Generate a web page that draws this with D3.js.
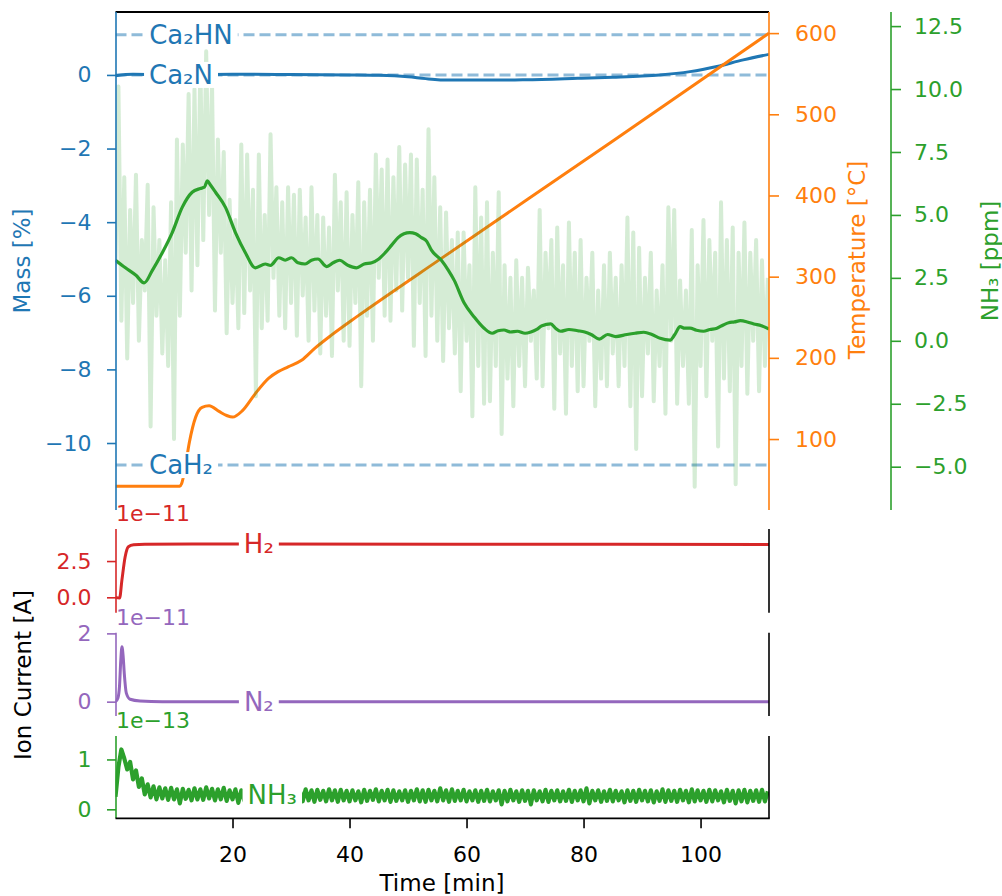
<!DOCTYPE html>
<html><head><meta charset="utf-8">
<script src="https://cdn.jsdelivr.net/npm/d3@7"></script>
<style>body{margin:0;background:#fff} svg text{font-family:"DejaVu Sans",sans-serif}</style>
</head><body><svg id="c" width="1002" height="896"></svg>
<script>
// ---------------- data ----------------
const rawStep = 0.5; // minutes between raw samples
// NH3 concentration, raw signal [ppm], one value every 0.5 min starting at t=0
const nh3PpmRaw = [
 3.0,10.1,0.8,6.5,-0.7,5.2,1.5,6.6,0.0,4.0,
 2.0,6.2,-3.4,5.3,1.0,4.0,-0.5,3.2,-1.0,5.5,
 -3.9,8.0,1.0,7.8,3.5,9.8,2.0,10.0,3.0,11.0,
 4.0,11.5,5.0,10.2,1.2,8.0,3.5,7.5,0.3,5.6,
 1.5,4.8,0.5,7.8,1.1,7.4,2.0,6.0,-2.2,7.4,
 0.5,5.0,0.8,8.2,2.5,6.1,1.0,5.5,0.5,6.1,
 1.5,5.8,0.2,6.0,1.8,4.9,0.0,6.1,1.2,5.0,
 -0.5,4.9,1.0,4.5,-0.6,6.6,2.0,5.5,0.0,5.9,
 -0.2,5.0,1.5,6.3,-1.8,5.5,1.0,6.0,0.0,7.4,
 2.5,6.8,1.0,7.2,0.8,6.5,2.0,7.7,1.2,7.0,
 2.5,7.4,-0.2,7.2,1.5,6.0,-0.6,8.4,1.0,6.5,
 0.0,5.3,-0.8,5.1,0.5,4.0,-0.5,4.3,-2.0,4.3,
 0.0,3.0,-3.0,6.1,-1.0,4.9,-2.5,5.5,-2.4,3.5,
 -1.0,5.9,-3.7,3.0,-1.5,2.5,-2.6,3.2,-1.0,2.5,
 -1.8,2.9,0.0,2.0,-1.5,5.2,-1.8,3.5,0.5,4.0,
 -2.7,4.5,-0.5,3.0,-2.9,4.7,-1.0,3.5,-2.0,4.0,
 -1.8,2.5,0.0,3.5,-2.6,2.0,-1.5,3.0,-1.8,3.5,
 -0.5,2.5,-1.8,3.0,-1.0,4.9,-2.6,4.3,-4.3,3.7,
 -2.2,2.5,-0.5,3.5,-2.4,2.0,-1.0,3.0,-2.9,5.3,
 0.0,5.2,-2.5,2.4,-1.0,2.0,-2.5,4.4,-5.8,3.0,
 -1.0,4.8,-2.2,4.0,0.0,3.5,-4.2,5.5,-1.5,4.0,
 -2.0,4.5,-5.7,3.5,-1.0,4.7,-2.1,3.5,0.0,4.0,
 -2.0,3.2,-1.0,2.5
];
// NH3 concentration, smoothed [ [time min, ppm] ]
const nh3PpmSmooth = [
 [0,3.2],[1.7,2.9],[3.5,2.6],[4.9,2.3],[6.3,2.8],[8.0,3.5],[9.7,4.3],[11.4,5.3],[13.1,5.9],[14.5,6.05],
 [15.2,6.1],[15.7,6.35],[16.2,6.2],[17.1,5.9],[18.8,5.3],[20.5,4.3],[22.2,3.5],[23.9,2.9],[25.6,3.05],[26.5,3.0],
 [27.9,3.3],[29,3.2],[30.1,3.3],[31.2,3.1],[32.4,3.05],[33.5,3.2],[34.6,3.25],[36.1,2.95],[37.2,3.1],[38.3,3.2],
 [39.7,3.0],[41.2,2.9],[42.5,3.05],[43.8,3.1],[45,3.25],[46.1,3.5],[47.2,3.8],[48.3,4.1],[49.3,4.25],[50.3,4.3],
 [51.3,4.25],[52.3,4.1],[53.2,3.95],[54.0,3.6],[55.7,3.2],[56.9,2.8],[57.9,2.4],[59.6,1.5],[61.3,0.95],[63.0,0.5],
 [64.4,0.3],[65.4,0.4],[66.4,0.43],[67.5,0.35],[68.7,0.38],[70,0.3],[71.0,0.35],[72.0,0.45],[72.9,0.6],[74.4,0.67],
 [75.2,0.5],[76.1,0.38],[77.5,0.45],[79.0,0.4],[80.2,0.35],[81.3,0.25],[82.7,0.07],[84.1,0.25],[85.5,0.17],[87.4,0.25],
 [88.8,0.3],[90.3,0.34],[91.7,0.25],[93.1,0.1],[94.8,0.03],[95.6,0.25],[96.5,0.56],[97.3,0.5],[98.2,0.5],[99.3,0.42],
 [100.5,0.38],[101.6,0.45],[102.8,0.5],[103.8,0.62],[104.8,0.72],[105.8,0.75],[106.8,0.8],[108,0.75],[109.1,0.67],[110.4,0.6],
 [111.7,0.47]
];
// Temperature [ [time min, °C] ]
const temperature = [
 [0,42],[11.0,42],[11.3,45],[11.8,60],[12.6,95],[13.7,127],[14.8,139],[16.0,141],[17.7,134],[19,129],
 [20.0,127],[21.7,135],[23.9,156],[26.2,175],[27.8,183],[29.5,189],[31.8,197],[34.1,212],[36.9,228],[41.5,252],
 [56.2,325],[85.2,468],[111.7,600]
];
// Mass change [ [time min, %] ]
const massData = [
 [0,-0.02],[3,0.02],[10,0.0],[20,0.02],[30,0.01],[40,0.0],[45,-0.01],[50,-0.05],[53,-0.1],[57,-0.14],
 [65,-0.14],[70,-0.13],[79,-0.09],[85,-0.06],[90,-0.03],[93,0.0],[98.2,0.09],[102.8,0.23],[107.3,0.41],[111.7,0.56]
];
// reference mass levels of phases
const phaseNames = ["Ca₂HN","Ca₂N","CaH₂"];
const phaseMass = [1.09, 0.0, -10.6];
const phaseLabelTime = [12.9, 11.2, 11.2];
// Ion currents
const ionH2 = [[0,0],[0.7,-0.05],[1.1,1.2],[1.65,2.8],[2.2,3.49],[3.1,3.62],[5,3.66],[20,3.67],[60,3.66],[111.7,3.64]]; // x1e-11 A
const ionN2 = [[0,0],[0.4,0.1],[0.68,0.44],[0.9,1.2],[1.1,1.61],[1.3,1.35],[1.5,0.83],[1.85,0.25],[2.5,0.07],[4.2,0.02],[8,0.0],[111.7,0.0]]; // x1e-11 A
// NH3 ion current x1e-13 A, one value every 0.5 min from t=0
const ionNH3 = [
 0.25,0.85,1.2,1.02,0.8,0.95,0.6,0.78,0.45,0.62,
 0.3,0.5,0.24,0.46,0.2,0.44,0.22,0.42,0.19,0.43,
 0.2,0.4,0.12,0.41,0.21,0.39,0.18,0.42,0.2,0.4,
 0.19,0.44,0.22,0.41,0.18,0.4,0.2,0.43,0.17,0.38,
 0.2,0.4,0.13,0.38,0.18,0.4,0.2,0.37,0.16,0.39,
 0.19,0.37,0.11,0.4,0.2,0.37,0.16,0.4,0.19,0.38,
 0.17,0.39,0.2,0.37,0.16,0.4,0.18,0.38,0.15,0.39,
 0.19,0.37,0.16,0.4,0.18,0.38,0.15,0.39,0.18,0.37,
 0.16,0.38,0.18,0.36,0.14,0.39,0.17,0.37,0.19,0.4,
 0.16,0.37,0.18,0.39,0.15,0.38,0.17,0.36,0.18,0.38,
 0.15,0.37,0.18,0.4,0.16,0.38,0.15,0.39,0.18,0.37,
 0.16,0.42,0.18,0.38,0.15,0.4,0.17,0.37,0.18,0.39,
 0.16,0.36,0.18,0.38,0.15,0.37,0.17,0.39,0.16,0.36,
 0.18,0.38,0.1,0.37,0.16,0.39,0.18,0.36,0.15,0.38,
 0.17,0.37,0.1,0.38,0.18,0.36,0.16,0.39,0.15,0.37,
 0.18,0.38,0.16,0.36,0.17,0.39,0.15,0.37,0.18,0.38,
 0.16,0.42,0.12,0.37,0.18,0.38,0.15,0.36,0.17,0.39,
 0.16,0.37,0.18,0.36,0.14,0.38,0.17,0.37,0.15,0.39,
 0.18,0.37,0.16,0.38,0.14,0.36,0.17,0.4,0.15,0.38,
 0.17,0.37,0.15,0.39,0.18,0.37,0.14,0.4,0.16,0.38,
 0.18,0.37,0.15,0.39,0.16,0.38,0.18,0.36,0.14,0.39,
 0.17,0.37,0.12,0.38,0.16,0.39,0.14,0.37,0.17,0.38,
 0.15,0.39,0.16,0.36
];
const ionLabels = ["H₂","N₂","NH₃"];
const ionLabelTime = [24.5, 24.5, 26.8];
const ionLabelValue = [3.65, 0.0, 0.28];
const ionExponent = ["1e−11","1e−11","1e−13"];
// ticks
const massTicks = [-10,-8,-6,-4,-2,0];
const tempTicks = [100,200,300,400,500,600];
const ppmTicks = [-5,-2.5,0,2.5,5,7.5,10,12.5];
const h2Ticks = [0,2.5];
const n2Ticks = [0,2];
const nh3IonTicks = [0,1];
const timeTicks = [20,40,60,80,100];

// ---------------- drawing ----------------
const C = {blue:"#1f77b4", orange:"#ff7f0e", green:"#2ca02c", red:"#d62728", purple:"#9467bd"};
const FS = 22, AFS = 23, LFS = 26;
const svg = d3.select("#c");
const x = d3.scaleLinear().domain([0,111.7]).range([115.5,769]);
const top0 = 12, bot0 = 510;
const yMass = d3.scaleLinear().domain([-11.82,1.71]).range([bot0,top0]);
const yTemp = d3.scaleLinear().domain([12.6,626]).range([bot0,top0]);
const yPpm  = d3.scaleLinear().domain([-6.72,13.06]).range([bot0,top0]);
const yH2   = d3.scaleLinear().domain([-1.06,4.71]).range([612.7,529]);
const yN2   = d3.scaleLinear().domain([-0.42,2.02]).range([716,632.7]);
const yNI   = d3.scaleLinear().domain([-0.18,1.47]).range([818.3,736]);

const X0 = x.range()[0], X1 = x.range()[1];
const defs = svg.append("defs");
function clip(id, y0, y1){
  defs.append("clipPath").attr("id",id).append("rect")
    .attr("x",X0).attr("y",y0).attr("width",X1-X0).attr("height",y1-y0);
  return svg.append("g").attr("clip-path",`url(#${id})`);
}
function styleAxis(g, color){
  g.select(".domain").remove();
  g.attr("font-size",null).attr("font-family",null);
  g.selectAll(".tick line").attr("stroke",color).attr("stroke-width",1.6);
  g.selectAll(".tick text").attr("fill",color).style("font-size",FS+"px");
}
function vline(xp,y0,y1,color,w){svg.append("line").attr("x1",xp).attr("x2",xp).attr("y1",y0).attr("y2",y1).attr("stroke",color).attr("stroke-width",w||1.6);}
function label(g, txt, xp, yp, color, size){
  const grp = g.append("g");
  const r = grp.append("rect").attr("fill","#fff");
  const t = grp.append("text").attr("x",xp).attr("y",yp).attr("dy","0.35em")
    .attr("text-anchor","middle").attr("fill",color).style("font-size",size+"px").text(txt);
  const b = t.node().getBBox();
  r.attr("x",b.x-5).attr("y",yp-13).attr("width",b.width+10).attr("height",26);
}

// ---- top panel ----
const gTop = clip("cpTop", top0, bot0);
const lineM = d3.line().x(d=>x(d[0])).y(d=>yMass(d[1])).curve(d3.curveMonotoneX);
phaseMass.forEach(m=>{
  gTop.append("line").attr("x1",X0).attr("x2",X1).attr("y1",yMass(m)).attr("y2",yMass(m))
    .attr("stroke",C.blue).attr("stroke-opacity",0.5).attr("stroke-width",3).attr("stroke-dasharray","11,5");
});
gTop.append("path").datum(massData).attr("d",lineM).attr("fill","none").attr("stroke",C.blue).attr("stroke-width",3);
gTop.append("path").datum(temperature).attr("fill","none").attr("stroke",C.orange).attr("stroke-width",3)
  .attr("d",d3.line().x(d=>x(d[0])).y(d=>yTemp(d[1])).curve(d3.curveMonotoneX));
gTop.append("path").datum(nh3PpmRaw).attr("fill","none").attr("stroke",C.green).attr("stroke-opacity",0.2)
  .attr("stroke-width",4).attr("stroke-linejoin","round")
  .attr("d",d3.line().x((d,i)=>x(i*rawStep)).y(d=>yPpm(d)));
gTop.append("path").datum(nh3PpmSmooth).attr("fill","none").attr("stroke",C.green).attr("stroke-width",3.2)
  .attr("stroke-linejoin","round")
  .attr("d",d3.line().x(d=>x(d[0])).y(d=>yPpm(d[1])).curve(d3.curveMonotoneX));
phaseNames.forEach((n,i)=>label(svg, n, x(phaseLabelTime[i]), yMass(phaseMass[i]), C.blue, LFS));

// top panel spines & axes
svg.append("line").attr("x1",X0).attr("x2",X1).attr("y1",top0).attr("y2",top0).attr("stroke","#000").attr("stroke-width",1.8);
vline(116,top0,bot0,C.blue);
vline(769,top0,bot0,C.orange);
vline(891,top0,bot0,C.green);
styleAxis(svg.append("g").attr("transform","translate(116,0)")
  .call(d3.axisLeft(yMass).tickValues(massTicks).tickSize(9).tickPadding(15.5).tickFormat(d3.format("d"))), C.blue);
styleAxis(svg.append("g").attr("transform","translate(769,0)")
  .call(d3.axisRight(yTemp).tickValues(tempTicks).tickSize(10).tickPadding(16).tickFormat(d3.format("d"))), C.orange);
styleAxis(svg.append("g").attr("transform","translate(891,0)")
  .call(d3.axisRight(yPpm).tickValues(ppmTicks).tickSize(10).tickPadding(13).tickFormat(d3.format(".1f"))), C.green);

function rotLabel(txt, xp, yp, color){
  svg.append("text").attr("transform",`translate(${xp},${yp}) rotate(-90)`).attr("text-anchor","middle")
    .attr("dy","0.35em").attr("fill",color).style("font-size",AFS+"px").text(txt);
}
rotLabel("Mass [%]", 22, 261, C.blue);
rotLabel("Temperature [°C]", 857, 260, C.orange);
rotLabel("NH₃ [ppm]", 990, 261, C.green);
rotLabel("Ion Current [A]", 23, 675, "#000");

// ---- ion panels ----
const panels = [
  {data:ionH2, y:yH2, color:C.red, ticks:h2Ticks, fmt:d3.format(".1f"), id:"cpH2", w:3},
  {data:ionN2, y:yN2, color:C.purple, ticks:n2Ticks, fmt:d3.format("d"), id:"cpN2", w:3},
  {data:ionNH3.map((v,i)=>[i*rawStep,v]), y:yNI, color:C.green, ticks:nh3IonTicks, fmt:d3.format("d"), id:"cpNI", raw:true, w:4.2}
];
panels.forEach((p,k)=>{
  const [yb, yt] = p.y.range();
  const g = clip(p.id, yt, yb);
  const ln = d3.line().x(d=>x(d[0])).y(d=>p.y(d[1]));
  if(!p.raw) ln.curve(d3.curveMonotoneX);
  g.append("path").datum(p.data).attr("d",ln).attr("fill","none").attr("stroke",p.color)
    .attr("stroke-width",p.w).attr("stroke-linejoin","round");
  label(svg, ionLabels[k], x(ionLabelTime[k]), p.y(ionLabelValue[k]), p.color, LFS);
  vline(116,yt,yb,p.color);
  vline(769,yt,yb,"#000");
  styleAxis(svg.append("g").attr("transform","translate(116,0)")
    .call(d3.axisLeft(p.y).tickValues(p.ticks).tickSize(9).tickPadding(15.5).tickFormat(p.fmt)), p.color);
  svg.append("text").attr("x",116).attr("y",yt-8).attr("fill",p.color).style("font-size",FS+"px").text(ionExponent[k]);
});
// bottom spine & time axis
svg.append("line").attr("x1",X0).attr("x2",X1+0.8).attr("y1",818.3).attr("y2",818.3).attr("stroke","#000").attr("stroke-width",1.8);
styleAxis(svg.append("g").attr("transform","translate(0,818.3)")
  .call(d3.axisBottom(x).tickValues(timeTicks).tickSize(10).tickPadding(18.5).tickFormat(d3.format("d"))), "#000");
svg.append("text").attr("x",442).attr("y",891).attr("text-anchor","middle").attr("fill","#000")
  .style("font-size",AFS+"px").text("Time [min]");
</script></body></html>
